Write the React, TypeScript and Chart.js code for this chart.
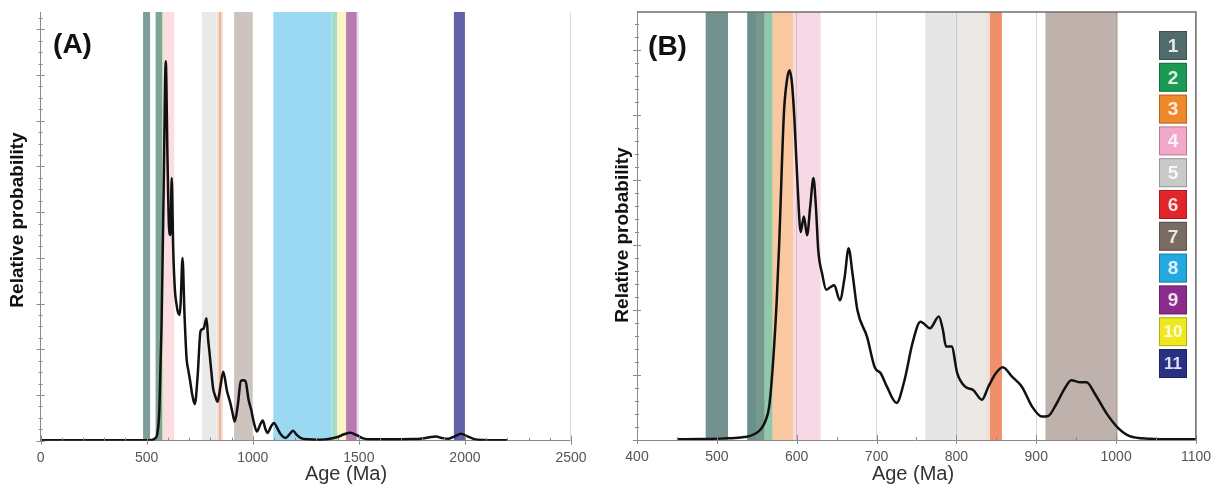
import React, { useEffect, useRef } from "react";
import { Chart, registerables } from "chart.js";
Chart.register(...registerables);

// ---------- Panel A data ----------
const agesA = [
  0, 200, 400, 500, 520, 540, 550, 560, 570, 580,
  590, 598, 605, 612, 618, 625, 633, 640, 648, 655,
  660, 669, 678, 688, 696, 705, 715, 727, 740, 754,
  768, 782, 790, 795, 805, 813, 825, 834, 848, 861,
  878, 894, 905, 915, 930, 944, 955, 966, 980, 993,
  1005, 1020, 1035, 1047, 1060, 1070, 1085, 1100, 1115, 1130,
  1155, 1175, 1190, 1205, 1230, 1260, 1300, 1350, 1400, 1430,
  1460, 1490, 1520, 1560, 1650, 1750, 1800, 1840, 1865, 1890,
  1920, 1950, 1982, 2010, 2040, 2080, 2150, 2198,
];
const probA = [
  0.1, 0.1, 0.1, 0.1, 0.15, 0.5, 1.5, 7, 25, 55,
  83, 62, 47, 45, 57.5, 42, 33, 30, 28, 27.5,
  30, 40, 28, 18, 15.5, 13, 10, 8, 14, 24,
  24.5, 26.8, 22, 19.8, 15, 11.5, 9.5, 8.5, 12, 15.1,
  11, 8.3, 6, 4.2, 8, 13.1, 13.2, 13, 9, 6.7,
  4, 2.0, 3.5, 4.4, 2.5, 1.7, 3, 3.9, 2.8, 1.5,
  0.6, 1.5, 2.2, 1.4, 0.5, 0.3, 0.2, 0.3, 0.8, 1.4,
  1.75, 1.2, 0.5, 0.3, 0.3, 0.35, 0.5, 0.8, 0.9, 0.6,
  0.4, 0.9, 1.5, 1.0, 0.4, 0.15, 0.1, 0.1,
];

// ---------- Panel B data ----------
const agesB = [
  450, 480, 510, 530, 541, 550, 556, 561, 565.5, 570,
  575, 578, 584, 588, 591, 594, 597, 601, 605, 609,
  613, 617, 621, 624, 627, 632, 637, 642, 647, 654,
  660, 665, 670, 676, 688, 698, 705, 713, 725, 735,
  745, 755, 767, 778, 783, 787, 794, 801, 811, 821,
  832, 840, 849, 858, 870, 882, 895, 907, 915, 925,
  935, 944, 954, 963, 973, 988, 1003, 1017, 1042, 1070,
  1100,
];
const probB = [
  0.1, 0.15, 0.25, 0.4, 0.6, 1.1, 1.8, 3, 5.1, 11.3,
  21.5, 30, 50.3, 55.5, 56.9, 55, 49.7, 39.5, 32, 34.4,
  31.5, 36, 40.3, 36, 29.2, 25.5, 23.1, 23.5, 23.8, 21.5,
  25, 29.5, 25.5, 20, 15.9, 11.1, 10.3, 8.2, 5.7, 9.2,
  14.9, 18.2, 17.2, 19.0, 17, 14.4, 14.4, 10.3, 8.2, 7.7,
  6.2, 8.2, 10.2, 11.2, 9.7, 8.2, 5.1, 3.6, 3.7, 5.5,
  7.8, 9.2, 8.9, 8.9, 7.2, 4.1, 1.8, 0.6, 0.2, 0.1,
  0.1,
];

// ---------- Axes ----------
const xTicksA = [0, 500, 1000, 1500, 2000, 2500];
const xTicksB = [400, 500, 600, 700, 800, 900, 1000, 1100];
const yMajorA = [0, 10, 20, 30, 40, 50, 60, 70, 80, 90];
const yMajorB = [0, 10, 20, 30, 40, 50, 60];

// ---------- Age bands (Ma) ----------
const bandFromA = [483, 542, 574, 580, 760, 831, 842, 912, 1097, 1372, 1398, 1440, 1493, 1948];
const bandToA = [516, 574, 580, 630, 830, 860, 849, 1000, 1372, 1400, 1440, 1490, 1498, 2000];
const bandColorA = [
  "#7c9f9d", "#7ea597", "#c9dcaa", "#fbdde2", "#e9e9e9", "#f6ddd1", "#e6a78d",
  "#cdc4c0", "#9bd8f2", "#a7dccb", "#fcf5c6", "#b97ab4", "#cfc6e4", "#6262aa",
];
const bandFromB = [486, 538, 549, 560, 570, 596, 761, 798, 837, 842, 911.5];
const bandToB = [514, 549, 560, 570, 596, 630, 798, 837, 842, 857, 1002];
const bandColorB = [
  "#71928f", "#6b8f8a", "#76998f", "#91c8a7", "#f9c8a0", "#f7d9e5",
  "#e5e5e5", "#ebe8e5", "#f1e0d8", "#ef8f6c", "#bfb2ad",
];

// ---------- Legend ----------
const legendLabels = ["1", "2", "3", "4", "5", "6", "7", "8", "9", "10", "11"];
const legendColors = [
  "#4f6b6b", "#1b9a55", "#f0892c", "#f2a9c9", "#c9c9c9", "#e1252b",
  "#7a6b63", "#23a9e0", "#8b2b8b", "#efe820", "#2b3182",
];

const FONT = "'Liberation Sans', Arial, Helvetica, sans-serif";

type PanelCfg = {
  label: string;
  labelX: number;
  labelY: number;
  yTitleX: number;
  yTitleY: number;
  xTitleX: number;
  xTitleY: number;
  bandFrom: number[];
  bandTo: number[];
  bandColor: string[];
  xMajor: number[];
  xMinorStep: number;
  xMin: number;
  xMax: number;
  yMajor: number[];
  yMinorStep: number;
  yMax: number;
  frame: "A" | "B";
  legend: boolean;
  legendX: number;
  legendY: number;
};

function makePlugins(cfg: PanelCfg) {
  const bands = {
    id: "bands" + cfg.frame,
    beforeDraw(chart: any) {
      const { ctx, chartArea, scales } = chart;
      const x = scales.x;
      ctx.save();
      ctx.beginPath();
      ctx.rect(chartArea.left, chartArea.top, chartArea.right - chartArea.left, chartArea.bottom - chartArea.top);
      ctx.clip();
      for (let i = 0; i < cfg.bandFrom.length; i++) {
        const a = x.getPixelForValue(cfg.bandFrom[i]);
        const b = x.getPixelForValue(cfg.bandTo[i]);
        ctx.fillStyle = cfg.bandColor[i];
        ctx.fillRect(a, chartArea.top, b - a, chartArea.bottom - chartArea.top);
      }
      ctx.restore();
    },
  };
  const decor = {
    id: "decor" + cfg.frame,
    afterDraw(chart: any) {
      const { ctx, chartArea, scales } = chart;
      const x = scales.x;
      const y = scales.y;
      ctx.save();
      ctx.strokeStyle = "#8a8a8a";
      ctx.lineWidth = 1;
      // x ticks
      for (let v = cfg.xMin; v <= cfg.xMax + 1e-6; v += cfg.xMinorStep) {
        const px = Math.round(x.getPixelForValue(v)) + 0.5;
        const major = cfg.xMajor.includes(v);
        const len = major ? 5 : 3;
        ctx.beginPath();
        ctx.moveTo(px, chartArea.bottom - len);
        ctx.lineTo(px, chartArea.bottom + (major ? 4 : 0));
        ctx.stroke();
      }
      // y ticks
      for (let v = 0; v <= cfg.yMax + 1e-6; v += cfg.yMinorStep) {
        const py = Math.round(y.getPixelForValue(v)) + 0.5;
        const major = cfg.yMajor.some((m) => Math.abs(m - v) < 1e-6);
        const len = major ? 4 : 2;
        ctx.beginPath();
        ctx.moveTo(chartArea.left - len, py);
        ctx.lineTo(chartArea.left + len, py);
        ctx.stroke();
      }
      // frame
      if (cfg.frame === "A") {
        ctx.strokeStyle = "#dcdcdc";
        ctx.beginPath();
        ctx.moveTo(chartArea.right - 0.5, chartArea.top);
        ctx.lineTo(chartArea.right - 0.5, chartArea.bottom);
        ctx.stroke();
      } else {
        ctx.strokeStyle = "#6f6f6f";
        ctx.lineWidth = 1.5;
        ctx.beginPath();
        ctx.moveTo(chartArea.left, chartArea.top);
        ctx.lineTo(chartArea.right, chartArea.top);
        ctx.lineTo(chartArea.right, chartArea.bottom);
        ctx.stroke();
      }
      // titles
      ctx.fillStyle = "#111";
      ctx.textAlign = "center";
      ctx.textBaseline = "middle";
      ctx.font = `bold 28px ${FONT}`;
      ctx.fillText(cfg.label, cfg.labelX, cfg.labelY);
      ctx.fillStyle = "#333";
      ctx.font = `20px ${FONT}`;
      ctx.fillText("Age (Ma)", cfg.xTitleX, cfg.xTitleY);
      ctx.save();
      ctx.translate(cfg.yTitleX, cfg.yTitleY);
      ctx.rotate(-Math.PI / 2);
      ctx.fillStyle = "#111";
      ctx.font = `bold 19px ${FONT}`;
      ctx.fillText("Relative probability", 0, 0);
      ctx.restore();
      // legend
      if (cfg.legend) {
        const bw = 28, bh = 29, pitch = 31.8;
        for (let i = 0; i < legendLabels.length; i++) {
          const top = cfg.legendY + i * pitch;
          ctx.fillStyle = legendColors[i];
          ctx.fillRect(cfg.legendX, top, bw, bh);
          ctx.strokeStyle = "rgba(0,0,0,0.25)";
          ctx.lineWidth = 1;
          ctx.strokeRect(cfg.legendX + 0.5, top + 0.5, bw - 1, bh - 1);
          ctx.fillStyle = "rgba(255,255,255,0.85)";
          ctx.font = `bold ${legendLabels[i].length > 1 ? 17 : 19}px ${FONT}`;
          ctx.fillText(legendLabels[i], cfg.legendX + bw / 2, top + bh / 2 + 1);
        }
      }
      ctx.restore();
    },
  };
  return [bands, decor];
}

function buildChart(canvas: HTMLCanvasElement, ages: number[], probs: number[], cfg: PanelCfg, layout: any, yAxisW: number, xAxisH: number, xTicks: number[], grid: boolean) {
  return new Chart(canvas, {
    type: "line",
    data: {
      datasets: [
        {
          data: ages.map((a, i) => ({ x: a, y: probs[i] })),
          borderColor: "#111",
          borderWidth: 2.5,
          pointRadius: 0,
          fill: false,
          cubicInterpolationMode: "monotone",
        },
      ],
    },
    options: {
      responsive: false,
      animation: false,
      devicePixelRatio: 1,
      layout: { padding: layout },
      plugins: { legend: { display: false }, tooltip: { enabled: false } },
      scales: {
        x: {
          type: "linear",
          min: cfg.xMin,
          max: cfg.xMax,
          afterBuildTicks: (s: any) => {
            s.ticks = xTicks.map((v) => ({ value: v }));
          },
          afterFit: (s: any) => {
            s.height = xAxisH;
          },
          ticks: {
            color: "#555",
            font: { family: FONT, size: 14 },
            padding: 9,
            maxRotation: 0,
            callback: (v: any) => String(v),
          },
          grid: { display: grid, drawTicks: false, color: "rgba(140,140,140,0.35)", lineWidth: 1 },
          border: { display: true, color: "#8a8a8a", width: 1 },
        },
        y: {
          min: 0,
          max: cfg.yMax,
          afterFit: (s: any) => {
            s.width = yAxisW;
          },
          ticks: { display: false },
          grid: { display: false, drawTicks: false },
          border: { display: true, color: "#8a8a8a", width: 1 },
        },
      },
    } as any,
    plugins: makePlugins(cfg) as any,
  });
}

export default function App() {
  const refA = useRef<HTMLCanvasElement>(null);
  const refB = useRef<HTMLCanvasElement>(null);

  useEffect(() => {
    const cfgA: PanelCfg = {
      label: "(A)", labelX: 72.5, labelY: 45,
      yTitleX: 18, yTitleY: 220,
      xTitleX: 346, xTitleY: 474,
      bandFrom: bandFromA, bandTo: bandToA, bandColor: bandColorA,
      xMajor: xTicksA, xMinorStep: 100, xMin: 0, xMax: 2500,
      yMajor: yMajorA, yMinorStep: 2.5, yMax: 93.8,
      frame: "A", legend: false, legendX: 0, legendY: 0,
    };
    const cfgB: PanelCfg = {
      label: "(B)", labelX: 67.5, labelY: 47,
      yTitleX: 23, yTitleY: 235,
      xTitleX: 313, xTitleY: 474,
      bandFrom: bandFromB, bandTo: bandToB, bandColor: bandColorB,
      xMajor: xTicksB, xMinorStep: 50, xMin: 400, xMax: 1100,
      yMajor: yMajorB, yMinorStep: 2, yMax: 65.85,
      frame: "B", legend: true, legendX: 559, legendY: 31,
    };
    const a = buildChart(refA.current!, agesA, probA, cfgA, { left: 0, top: 12, right: 29, bottom: 0 }, 40.6, 47.3, xTicksA, false);
    const b = buildChart(refB.current!, agesB, probB, cfgB, { left: 0, top: 12, right: 21, bottom: 0 }, 37, 48, xTicksB, true);
    return () => {
      a.destroy();
      b.destroy();
    };
  }, []);

  return (
    <div style={{ position: "fixed", left: 0, top: 0, width: 1220, height: 488, background: "#fff" }}>
      <canvas ref={refA} width={600} height={488} style={{ position: "absolute", left: 0, top: 0 }} />
      <canvas ref={refB} width={620} height={488} style={{ position: "absolute", left: 600, top: 0 }} />
    </div>
  );
}
